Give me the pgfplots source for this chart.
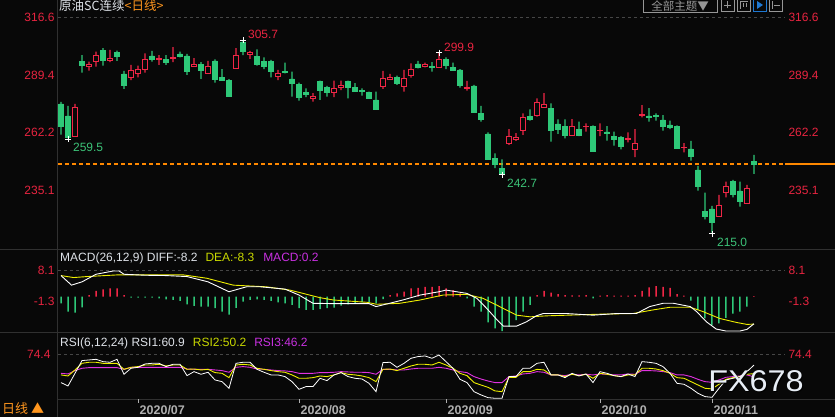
\documentclass[border=0pt]{standalone}
\usepackage{fontspec}
\setmainfont{Liberation Sans}
\newfontfamily\cjk{Noto Sans CJK SC}
\usepackage{pgfplots}
\usepackage{pgfplotstable}
\pgfplotsset{compat=1.18}

\definecolor{bg}{RGB}{8,8,8}
\definecolor{cred}{RGB}{240,38,70}
\definecolor{cgreen}{RGB}{46,200,120}
\definecolor{labred}{RGB}{232,36,64}
\definecolor{labgreen}{RGB}{60,195,120}
\definecolor{lorange}{RGB}{255,150,30}
\definecolor{lastc}{RGB}{255,136,0}
\definecolor{dgray}{RGB}{48,48,48}
\definecolor{dashgray}{RGB}{70,70,70}
\definecolor{txtw}{RGB}{222,226,232}
\definecolor{datec}{RGB}{175,175,175}
\definecolor{lyellow}{RGB}{238,238,0}
\definecolor{tyellow}{RGB}{200,216,0}
\definecolor{lmag}{RGB}{225,50,225}
\definecolor{tmag}{RGB}{200,48,224}
\definecolor{wm}{RGB}{232,238,246}
\definecolor{btn}{RGB}{150,150,150}
\definecolor{btnblue}{RGB}{30,120,210}

\newcommand\fs[1]{\fontsize{#1}{#1}\selectfont}

% candles, index 0..99 (one per trading day), red = up, green = down
\pgfplotstableread{
i o h l c
2 260.3 275.7 260.3 274.2
4 293.3 295.7 291.4 294.1
5 295.7 300.4 293.3 298.4
7 296.0 301.2 295.4 297.3
10 288.3 294.1 287.0 291.3
11 290.2 293.8 288.3 292.2
12 292.1 299.6 290.5 296.8
14 296.8 298.8 294.1 297.3
16 297.1 302.5 295.4 297.4
19 293.3 297.3 293.3 294.4
21 290.2 296.0 289.9 293.6
25 292.5 302.0 292.5 298.4
27 299.2 300.7 297.0 300.1
31 288.9 291.8 287.0 289.9
36 278.2 280.8 276.8 279.2
39 281.1 286.7 278.9 283.1
40 283.6 286.7 282.3 284.2
46 283.9 291.3 282.8 287.5
47 287.4 289.9 287.4 288.1
49 283.9 291.8 281.5 287.5
50 289.1 294.9 288.1 292.2
52 293.6 295.2 293.0 294.1
54 292.9 299.9 292.9 296.8
58 283.1 286.6 282.0 283.6
64 257.2 263.9 256.4 260.6
65 259.0 261.9 258.3 259.8
66 263.1 271.3 261.1 269.4
68 270.5 278.4 269.7 276.5
69 274.1 280.8 274.1 275.6
73 260.8 268.6 260.8 265.0
75 265.0 266.6 262.7 265.3
77 263.1 266.6 260.6 263.4
81 258.9 262.3 257.6 259.2
82 254.3 263.9 250.6 257.2
83 270.4 275.2 269.4 270.8
89 255.1 257.2 252.9 255.4
94 222.6 232.8 222.6 227.9
95 234.0 239.1 231.7 237.0
98 228.9 237.5 228.9 235.9
}\up

\pgfplotstableread{
i o h l c
0 275.7 276.7 261.3 265.0
1 270.1 274.8 259.5 260.0
3 295.7 298.8 290.5 293.8
6 300.9 302.0 293.8 296.5
8 299.9 300.9 296.0 298.0
9 289.9 291.3 282.8 284.7
13 298.4 300.7 295.7 296.8
15 296.8 298.8 294.1 295.2
17 299.3 300.4 297.7 298.0
18 298.4 299.3 289.4 291.0
20 294.4 295.4 287.5 291.4
22 296.0 296.8 285.8 287.5
23 288.3 292.1 286.7 287.0
24 287.0 287.4 279.2 279.2
26 304.6 305.7 298.8 300.4
28 298.0 301.5 293.8 294.6
29 295.7 297.7 292.2 293.6
30 295.7 296.5 288.3 291.0
32 291.0 295.2 290.2 290.5
33 287.5 291.0 279.2 285.5
34 285.1 285.8 277.3 278.9
35 281.1 283.1 278.9 280.1
37 286.3 286.7 277.6 282.0
38 283.4 284.2 279.2 281.1
41 286.3 286.7 278.4 283.6
42 283.6 285.5 281.5 281.5
43 282.3 283.1 279.7 281.5
44 281.1 281.5 278.1 278.2
45 277.6 281.5 273.2 273.2
48 288.1 289.1 284.7 285.5
51 294.6 296.0 292.5 293.0
53 293.3 295.4 291.0 293.0
55 296.8 297.7 292.1 293.8
56 293.0 295.2 291.4 291.8
57 291.8 292.2 283.4 284.7
59 284.2 284.7 271.6 271.6
60 271.3 274.8 267.4 268.5
61 261.6 262.3 249.8 249.8
62 250.1 252.4 245.4 247.3
63 245.2 249.6 242.7 243.2
67 270.0 273.2 267.8 268.6
70 273.7 276.0 257.9 263.4
71 266.3 268.5 261.6 263.9
72 265.3 268.5 259.5 260.8
74 263.8 267.4 260.6 261.1
76 265.3 265.6 253.1 253.5
78 262.5 265.3 258.4 262.0
79 260.6 262.7 256.1 259.0
80 260.0 260.6 254.3 255.9
84 270.1 273.7 267.4 269.4
85 270.2 271.3 267.9 269.7
86 268.2 270.5 263.1 265.3
87 265.8 267.9 263.8 264.5
88 265.3 265.6 254.6 254.6
90 254.5 258.3 249.0 250.9
91 244.6 246.5 234.8 236.7
92 225.2 233.9 221.3 222.6
93 226.2 227.6 215.0 219.7
96 239.1 239.9 231.7 233.1
97 234.7 239.1 227.3 229.6
99 248.8 251.7 242.7 247.4
}\dn

\pgfplotstableread{
i v
0 -2.0
1 -4.5
2 -4.8
3 -3.2
4 0.5
5 1.8
6 2.2
7 2.5
8 2.5
9 0.5
10 -0.3
11 -0.3
12 -0.3
13 -0.3
14 -0.5
15 -0.8
16 -1.0
17 -1.3
18 -2.3
19 -2.8
20 -3.0
21 -3.0
22 -3.5
23 -4.5
24 -5.4
25 -3.4
26 -1.5
27 -1.0
28 -0.8
29 -1.0
30 -1.3
31 -1.7
32 -2.0
33 -2.5
34 -3.5
35 -4.0
36 -4.0
37 -3.8
38 -3.5
39 -3.3
40 -2.7
41 -2.3
42 -2.0
43 -1.7
44 -1.7
45 -2.0
46 -0.7
47 0.5
48 1.0
49 1.5
50 2.5
51 2.7
52 3.0
53 3.0
54 3.2
55 2.5
56 2.0
57 1.0
58 -0.5
59 -3.0
60 -4.5
61 -7.8
62 -9.6
63 -10.4
64 -9.1
65 -7.1
66 -4.5
67 -2.5
68 0.5
69 1.8
70 1.2
71 0.8
72 0.5
73 0.4
74 0.4
75 0.5
76 -0.5
77 0.3
78 0.5
79 0.3
80 0.3
81 0.3
82 0.5
83 1.8
84 2.8
85 3.2
86 3.0
87 2.7
88 0.8
89 0.3
90 -1.2
91 -4.0
92 -6.6
93 -8.6
94 -8.1
95 -6.4
96 -5.1
97 -4.5
98 -3.0
99 0.2
}\macd

\pgfplotstableread{
i d
0 6.4
1.5 3.5
3 4.5
5 6.8
7.5 7.8
8.3 7.8
9 6.8
12 6.5
15 6.4
18 6.1
21 4.5
24 1.5
26.5 3.0
28.5 3.0
32 2.3
34 0.5
36 -2.0
39 -2.1
44 -2.1
45 -3.0
47.5 -1.7
49 -0.9
51.3 0.5
54 1.5
55 2.0
58 1.0
59.4 -0.5
60.8 -3.5
62.2 -6.8
63.2 -8.9
65.1 -8.9
66.5 -7.6
67.9 -5.8
68.9 -5.1
72.2 -5.1
76 -5.6
79.4 -5.1
82.2 -5.1
84.1 -3.0
86 -2.0
87.5 -2.0
89.9 -3.0
90.8 -4.5
92.2 -7.6
93.6 -9.8
95 -10.4
97 -10.4
98 -9.9
99 -8.2
}\dif

\pgfplotstableread{
i d
0 6.4
1.8 5.8
3.7 6.1
8 6.6
17.5 6.6
20.8 5.6
24.6 3.5
29.3 3.0
32.7 2.0
37 -0.3
38.9 -1.0
43.7 -1.7
45.1 -2.3
48.4 -2.0
51.3 -1.0
54.6 0.5
58 0.7
60.3 -0.5
62.2 -2.5
65.1 -5.6
67 -6.1
69.4 -5.8
77 -5.3
81.7 -5.1
84.6 -4.0
87 -3.2
89.9 -3.2
91.7 -4.5
94.1 -6.6
96.5 -7.8
98 -8.4
99 -8.3
}\dea

\pgfplotstableread{
i r1 r2 r3
0 39.0 48.6 50.6
1 34.8 47.3 49.8
2 50.6 54.8 54.0
3 66.5 63.1 56.9
4 67.3 64.4 57.7
5 68.1 64.4 57.7
6 65.2 63.1 57.7
7 64.4 63.1 57.7
8 68.1 63.1 57.7
9 49.4 55.6 55.6
10 56.9 58.1 58.1
11 58.1 59.0 58.1
12 62.3 61.0 58.1
13 63.1 61.0 58.1
14 63.1 61.9 58.1
15 59.0 59.8 58.1
16 61.9 61.0 58.1
17 61.9 61.0 58.1
18 47.7 55.6 56.0
19 52.7 56.0 55.6
20 49.4 54.8 55.6
21 51.9 55.6 55.6
22 42.3 51.5 54.8
23 40.2 50.6 54.0
24 31.9 45.2 51.9
25 63.1 61.0 58.1
26 64.4 61.9 59.0
27 64.4 61.0 58.1
28 55.6 56.9 56.0
29 51.9 55.6 55.6
30 48.6 54.0 54.8
31 48.6 52.7 54.0
32 46.5 51.9 53.6
33 40.2 48.6 52.7
34 30.6 44.4 50.6
35 34.0 44.4 50.6
36 34.0 45.2 50.6
37 44.4 47.3 51.5
38 41.5 46.5 51.5
39 48.6 48.6 51.9
40 51.5 51.5 52.7
41 46.5 49.4 52.3
42 44.4 48.6 51.9
43 43.5 47.3 51.9
44 38.1 45.2 51.5
45 27.7 40.2 49.4
46 64.0 55.6 55.6
47 64.4 56.0 55.6
48 58.1 54.0 54.8
49 63.1 56.9 54.8
50 69.4 59.8 56.0
51 71.5 61.9 56.9
52 72.3 61.9 56.9
53 69.4 61.0 56.9
54 73.5 64.4 58.1
55 65.2 61.0 56.9
56 56.9 56.9 54.8
57 43.1 50.6 52.7
58 39.0 47.7 51.5
59 27.7 39.0 46.5
60 23.6 36.0 43.5
61 20.2 33.1 41.0
62 19.4 28.6 39.0
63 19.4 27.7 39.0
64 46.5 45.6 46.5
65 46.5 45.6 47.3
66 56.9 52.7 49.8
67 56.9 52.7 50.6
68 63.1 55.6 52.7
69 64.4 54.8 51.9
70 48.6 48.6 48.6
71 48.6 48.6 48.6
72 45.2 46.5 47.7
73 50.6 49.4 49.4
74 47.3 47.7 48.6
75 49.8 49.4 49.4
76 39.0 44.4 48.6
77 52.7 50.6 49.8
78 50.6 49.4 49.4
79 47.7 47.7 48.6
80 46.5 46.5 48.6
81 49.8 48.6 49.8
82 46.5 48.6 49.4
83 65.2 56.9 54.0
84 64.4 56.9 54.0
85 63.1 56.0 53.6
86 59.0 54.0 52.7
87 50.6 50.6 51.5
88 38.1 45.2 48.6
89 36.9 44.4 48.6
90 31.9 40.2 46.5
91 25.6 36.0 43.1
92 21.5 31.9 40.2
93 20.6 31.1 39.4
94 31.9 36.9 42.3
95 42.3 43.1 45.6
96 44.4 45.2 46.5
97 46.5 46.5 47.3
98 52.7 49.4 48.6
99 60.9 50.2 46.2
}\rsi

\pgfplotsset{
  pane/.style={scale only axis, width=727pt, xmin=-0.43, xmax=103.43,
    axis line style={draw=none}, xtick=\empty, ytick=\empty,
    major tick length=0pt, anchor=south west},
  mainp/.style={pane, at={(58pt,168pt)}, height=249pt, ymin=207.3, ymax=324.76},
  macdp/.style={pane, at={(58pt,84pt)}, height=83pt, ymin=-11.0, ymax=14.15},
  rsip/.style={pane, at={(58pt,18pt)}, height=66pt, ymin=18.5, ymax=101},
  lab/.style={font=\fs{12}, text=labred},
}

\begin{document}
\begin{tikzpicture}
\path[use as bounding box] (0,0) rectangle (835pt,417pt);
\fill[bg] (0,0) rectangle (835pt,417pt);

% panel frames
\draw[dgray, line width=1pt] (0,167.5pt) -- (835pt,167.5pt);
\draw[dgray, line width=1pt] (0,84pt) -- (835pt,84pt);
\draw[dgray, line width=1pt] (57.5pt,17.5pt) -- (835pt,17.5pt);
\draw[dgray, line width=1pt] (57.5pt,0) -- (57.5pt,417pt);

% ---------- price panel ----------
\begin{axis}[mainp,
  ytick={235.1,262.2,289.4,316.6}, yticklabels={235.1,262.2,289.4,316.6},
  yticklabel style={lab}]
\addplot[draw=dashgray, dashed, line width=0.8pt] coordinates {(-0.43,316.6) (103.43,316.6)};
\addplot[draw=lastc, dash pattern=on 4pt off 3pt, line width=1.4pt] coordinates {(-0.43,247.4) (103.43,247.4)};
\end{axis}
% last price continues solid past the right edge
\draw[draw=lastc, line width=1.4pt] (785pt,253pt) -- (835pt,253pt);

\begin{axis}[mainp, ybar stacked, bar width=1.1pt]
\addplot[draw=none, fill=none, forget plot] table[x=i, y=l] {\dn};
\addplot[fill=cgreen, draw=none] table[x=i, y expr=\thisrow{h}-\thisrow{l}] {\dn};
\end{axis}
\begin{axis}[mainp, ybar stacked, bar width=1.1pt]
\addplot[draw=none, fill=none, forget plot] table[x=i, y=l] {\up};
\addplot[fill=cred, draw=none] table[x=i, y expr=\thisrow{h}-\thisrow{l}] {\up};
\end{axis}
\begin{axis}[mainp, ybar stacked, bar width=4.5pt]
\addplot[draw=none, fill=none, forget plot] table[x=i, y=c] {\dn};
\addplot[fill=cgreen, draw=cgreen, line width=0.7pt] table[x=i, y expr=\thisrow{o}-\thisrow{c}] {\dn};
\end{axis}
\begin{axis}[mainp, ybar stacked, bar width=4.3pt]
\addplot[draw=none, fill=none, forget plot] table[x=i, y=o] {\up};
\addplot[fill=bg, draw=cred, line width=1pt] table[x=i, y expr=\thisrow{c}-\thisrow{o}] {\up};
\end{axis}

\begin{axis}[mainp, clip=false,
  ytick={235.1,262.2,289.4,316.6}, yticklabels={235.1,262.2,289.4,316.6},
  yticklabel pos=right, yticklabel style={lab}]
\addplot[only marks, mark=+, mark size=3pt, white, line width=0.8pt]
  coordinates {(26,305.7) (54,299.9) (1,259.1) (63,242.4) (93,214.6)};
\node[anchor=west, text=labred, font=\fs{12}, inner sep=0] at (axis cs:26.7,308.7) {305.7};
\node[anchor=west, text=labred, font=\fs{12}, inner sep=0] at (axis cs:54.7,302.6) {299.9};
\node[anchor=west, text=labgreen, font=\fs{12}, inner sep=0] at (axis cs:1.7,255.2) {259.5};
\node[anchor=west, text=labgreen, font=\fs{12}, inner sep=0] at (axis cs:63.7,238.4) {242.7};
\node[anchor=west, text=labgreen, font=\fs{12}, inner sep=0] at (axis cs:93.7,210.6) {215.0};
\end{axis}

% ---------- MACD panel ----------
\begin{axis}[macdp,
  ytick={-1.3,8.1}, yticklabels={-1.3,8.1}, yticklabel style={lab}]
\addplot[draw=dashgray, dashed, line width=0.8pt] coordinates {(-0.43,8.1) (103.43,8.1)};
\addplot[ybar, bar width=1.5pt, bar shift=0pt, fill=cred, draw=none,
  restrict y to domain=0:20] table[x=i, y=v] {\macd};
\addplot[ybar, bar width=1.5pt, bar shift=0pt, fill=cgreen, draw=none,
  restrict y to domain=-20:0] table[x=i, y=v] {\macd};
\addplot[draw=lyellow, line width=0.9pt] table[x=i, y=d] {\dea};
\addplot[draw=white, line width=0.9pt] table[x=i, y=d] {\dif};
\end{axis}
\begin{axis}[macdp, ytick={-1.3,8.1}, yticklabels={-1.3,8.1},
  yticklabel pos=right, yticklabel style={lab}]
\addplot[draw=none] coordinates {(0,0)};
\end{axis}

% ---------- RSI panel ----------
\begin{axis}[rsip,
  ytick={74.4}, yticklabels={74.4}, yticklabel style={lab}, ytick style={draw=none},
  xtick={11,34,55,77,93},
  xticklabels={2020/07,2020/08,2020/09,2020/10,2020/11},
  xtick pos=left, tick align=outside, major tick length=4pt,
  xtick style={draw=datec, line width=0.8pt},
  xticklabel style={anchor=north west, text=datec, font=\bfseries\fs{12.5},
    inner sep=1pt, xshift=0.5pt, yshift=-1pt}]
\addplot[draw=dashgray, dashed, line width=0.8pt] coordinates {(-0.43,74.4) (103.43,74.4)};
\addplot[draw=lmag, line width=0.9pt] table[x=i, y=r3] {\rsi};
\addplot[draw=lyellow, line width=0.9pt] table[x=i, y=r2] {\rsi};
\addplot[draw=white, line width=0.8pt] table[x=i, y=r1] {\rsi};
\end{axis}
\begin{axis}[rsip, ytick={74.4}, yticklabels={74.4},
  yticklabel pos=right, yticklabel style={lab}]
\addplot[draw=none] coordinates {(0,50)};
\end{axis}

% ---------- texts ----------
\node[anchor=base west, inner sep=0] at (59pt,406pt)
  {\cjk\fs{12.5}\textcolor{txtw}{原油SC连续}\textcolor{lorange}{<日线>}};
\node[anchor=west, inner sep=0, font=\fs{12}] at (60pt,159pt)
  {\textcolor{txtw}{MACD(26,12,9) DIFF:-8.2}\hspace{8pt}\textcolor{tyellow}{DEA:-8.3}\hspace{9pt}\textcolor{tmag}{MACD:0.2}};
\node[anchor=west, inner sep=0, font=\fs{12}] at (60pt,74pt)
  {\textcolor{txtw}{RSI(6,12,24) RSI1:60.9}\hspace{8pt}\textcolor{tyellow}{RSI2:50.2}\hspace{8pt}\textcolor{tmag}{RSI3:46.2}};
\node[anchor=base west, inner sep=0] at (2pt,3pt) {\cjk\fs{13}\textcolor{lorange}{日线 ▲}};

% toolbar
\draw[btn, line width=0.8pt] (643.5pt,405pt) rectangle (717pt,418pt);
\node[inner sep=0] at (680pt,411pt) {\cjk\fs{11.5}\textcolor{btn}{全部主题▼}};
\foreach \xx in {721,737,769}{
  \draw[btn, line width=0.8pt] (\xx pt,406pt) rectangle ++(13pt,12pt);}
\draw[btnblue, line width=0.9pt] (753pt,406pt) rectangle ++(13pt,12pt);
\fill[btnblue] (757pt,408pt) -- (757pt,416pt) -- (763pt,412pt) -- cycle;
\draw[btn, line width=0.8pt] (724pt,412pt) -- (731pt,412pt) (727.5pt,408.5pt) -- (727.5pt,415.5pt);
\draw[btn, line width=0.8pt] (740pt,408pt) -- (740pt,416pt) -- (748pt,416pt) (743pt,410pt) -- (743pt,414pt) (746pt,410pt) -- (746pt,414pt);
\draw[btn, line width=0.8pt] (772pt,408pt) -- (772pt,416pt) (774pt,412pt) -- (780pt,412pt);

% watermark
\node[text=black, font=\fs{30}, xscale=1.08] at (757pt,35pt) {FX678};
\node[text=wm, font=\fs{30}, xscale=1.08] at (756pt,36pt) {FX678};
\end{tikzpicture}
\end{document}
